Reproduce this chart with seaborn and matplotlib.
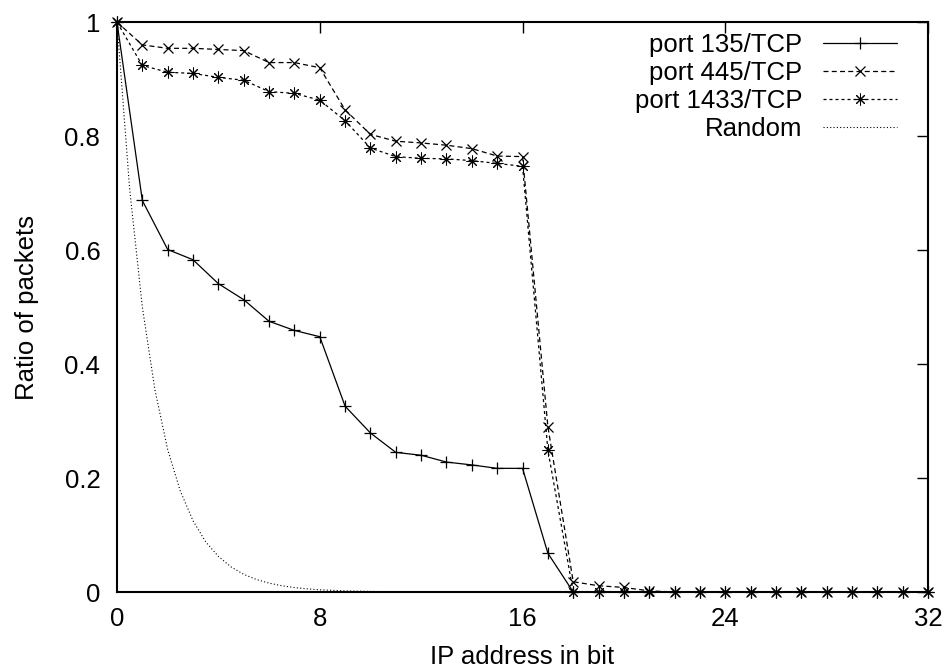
import matplotlib
matplotlib.use("Agg")
import matplotlib.pyplot as plt
import seaborn as sns
import pandas as pd

# Fraction of packets whose destination shares the first N bits with the source
bits = list(range(0, 33))

port135 = [1.0, 0.687, 0.601, 0.583, 0.541, 0.513, 0.475, 0.459, 0.448,
           0.326, 0.279, 0.245, 0.240, 0.228, 0.223, 0.217, 0.217, 0.068,
           0.0, 0.0, 0.0, 0.0, 0.0, 0.0, 0.0, 0.0, 0.0, 0.0, 0.0, 0.0,
           0.0, 0.0, 0.0]

port445 = [1.0, 0.960, 0.954, 0.954, 0.952, 0.950, 0.929, 0.929, 0.920,
           0.846, 0.803, 0.791, 0.788, 0.784, 0.778, 0.765, 0.764, 0.290,
           0.018, 0.011, 0.008, 0.002, 0.0, 0.0, 0.0, 0.0, 0.0, 0.0, 0.0,
           0.0, 0.0, 0.0, 0.0]

port1433 = [1.0, 0.924, 0.912, 0.910, 0.903, 0.898, 0.878, 0.875, 0.863,
            0.827, 0.779, 0.764, 0.761, 0.760, 0.757, 0.752, 0.747, 0.249,
            0.0, 0.0, 0.0, 0.0, 0.0, 0.0, 0.0, 0.0, 0.0, 0.0, 0.0, 0.0,
            0.0, 0.0, 0.0]

random_bits = [0.0, 0.5, 1.0, 1.5, 2.0, 2.5, 3.0, 3.5, 4.0, 4.5, 5.0, 5.5,
               6.0, 6.5, 7.0, 7.5, 8.0, 9.0, 10.0, 12.0, 16.0, 24.0, 32.0]
random_ratio = [1.0, 0.707, 0.5, 0.354, 0.25, 0.177, 0.125, 0.088, 0.0625,
                0.044, 0.031, 0.022, 0.0156, 0.011, 0.0078, 0.0055, 0.0039,
                0.002, 0.001, 0.0, 0.0, 0.0, 0.0]

series_labels = ["port 135/TCP", "port 445/TCP", "port 1433/TCP", "Random"]
x_ticks = [0, 8, 16, 24, 32]
y_ticks = [0, 0.2, 0.4, 0.6, 0.8, 1]
y_tick_labels = ["0", "0.2", "0.4", "0.6", "0.8", "1"]

sns.set_style("white")
plt.rcParams["font.family"] = ["Liberation Sans", "DejaVu Sans"]
plt.rcParams["text.color"] = "black"
plt.rcParams["axes.labelcolor"] = "black"

FS = 18.5

fig = plt.figure(figsize=(9.48, 6.70), dpi=100)
ax = fig.add_axes([0.1234, 0.1164, 0.979 - 0.1234, 0.967 - 0.1164])

df135 = pd.DataFrame({"bit": bits, "ratio": port135})
df445 = pd.DataFrame({"bit": bits, "ratio": port445})
df1433 = pd.DataFrame({"bit": bits, "ratio": port1433})
dfrand = pd.DataFrame({"bit": random_bits, "ratio": random_ratio})

asterisk = (8, 2, 0)
common = dict(ax=ax, color="black", markeredgecolor="black",
              markerfacecolor="none", clip_on=False)

sns.lineplot(data=df135, x="bit", y="ratio", linewidth=0.9, marker="+",
             markersize=8, markeredgewidth=0.9, label=series_labels[0], **common)
sns.lineplot(data=df445, x="bit", y="ratio", linewidth=0.9, marker="x",
             markersize=6.5, markeredgewidth=0.9, dashes=False,
             linestyle=(0, (4, 2.6)), label=series_labels[1], **common)
sns.lineplot(data=df1433, x="bit", y="ratio", linewidth=0.9, marker=asterisk,
             markersize=8.5, markeredgewidth=0.75, dashes=False,
             linestyle=(0, (2.4, 2.4)), label=series_labels[2], **common)
sns.lineplot(data=dfrand, x="bit", y="ratio", linewidth=0.8, dashes=False,
             linestyle=(0, (1, 2)), label=series_labels[3], **common)

ax.set_xlim(0, 32)
ax.set_ylim(0, 1)
ax.set_xticks(x_ticks)
ax.set_xticklabels([str(t) for t in x_ticks])
ax.set_yticks(y_ticks)
ax.set_yticklabels(y_tick_labels)

ax.tick_params(axis="both", which="major", direction="in", length=8, width=1,
               top=True, right=True, labelsize=FS, colors="black")
ax.tick_params(axis="x", pad=11)
ax.tick_params(axis="y", pad=12)
for side in ax.spines.values():
    side.set_linewidth(1.5)
    side.set_color("black")
    side.set_zorder(3)

ax.set_xlabel("IP address in bit", fontsize=FS, labelpad=10, color="black")
ax.set_ylabel("Ratio of packets", fontsize=FS, labelpad=18, color="black")

leg = ax.legend(loc="upper right", bbox_to_anchor=(0.962, 0.981),
                frameon=False, markerfirst=False, fontsize=FS,
                handlelength=2.9, handletextpad=0.8, labelspacing=0.15,
                borderaxespad=0.0, borderpad=0.0)
for txt in leg.get_texts():
    txt.set_color("black")

fig.savefig("out.png", dpi=100, facecolor="white")
